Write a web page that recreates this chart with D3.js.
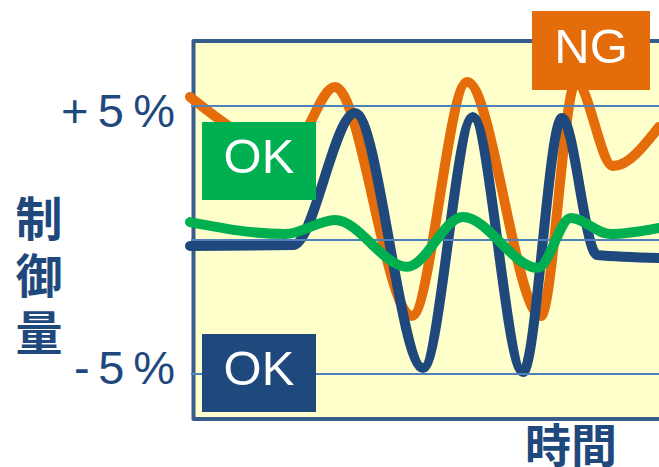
<!DOCTYPE html>
<html>
<head>
<meta charset="utf-8">
<script src="https://cdn.jsdelivr.net/npm/d3@7"></script>
<style>
  html, body { margin: 0; padding: 0; background: #fff; overflow: hidden; }
  svg { display: block; }
</style>
</head>
<body>
<svg id="chart" width="659" height="467"></svg>
<script>
// Control deviation (%) over time; time in arbitrary units 0–100.
const ngTime       = [0, 21.3, 30.9, 47.3, 59.1, 74.8, 82.3, 90.2, 100];
const ngValue      = [5.34, 3.36, 5.71, -2.84, 5.90, -2.84, 5.90, 2.76, 4.22];
const okBlueTime   = [0, 22, 35.2, 49.7, 60.3, 71, 79.3, 86.8, 100];
const okBlueValue  = [-0.22, -0.19, 4.74, -4.78, 4.59, -4.93, 4.55, -0.56, -0.67];
const okGreenTime  = [0, 20.3, 30.9, 46.3, 58.2, 74.2, 81.2, 89.6, 100];
const okGreenValue = [0.67, 0.22, 0.75, -1.0, 0.86, -1.04, 0.82, 0.22, 0.45];
const gridValues   = [5, 0, -5];
const tickValues   = [5, -5];
const tickLabels   = ["+5%", "-5%"];
const yTitle       = "制御量";
const xTitle       = "時間";
const badgeLabels  = ["NG", "OK", "OK"];

const svg = d3.select("#chart");
const C = { navy: "#1F497D", orange: "#E46C0A", green: "#00B050", grid: "#4F81BD", frame: "#385D8A", fill: "#FFFFCC" };

const x = d3.scaleLinear().domain([0, 100]).range([190, 659]);
const y = d3.scaleLinear().domain([-5, 5]).range([374, 106]);

const zip = (ts, vs) => ts.map((t, i) => ({ t, v: vs[i] }));
const line = d3.line().x(d => x(d.t)).y(d => y(d.v)).curve(d3.curveMonotoneX);

// plot frame
svg.append("rect")
  .attr("x", 193.5).attr("y", 41).attr("width", 520).attr("height", 378)
  .attr("fill", C.fill).attr("stroke", C.frame).attr("stroke-width", 4)
  .attr("stroke-linejoin", "round");

function drawSeries(ts, vs, color) {
  svg.append("path")
    .datum(zip(ts, vs))
    .attr("d", line)
    .attr("fill", "none")
    .attr("stroke", color)
    .attr("stroke-width", 10)
    .attr("stroke-linecap", "round")
    .attr("stroke-linejoin", "round");
}

drawSeries(ngTime, ngValue, C.orange);
drawSeries(okBlueTime, okBlueValue, C.navy);

// horizontal reference lines
svg.append("g").selectAll("line").data(gridValues).join("line")
  .attr("x1", 191).attr("x2", 680)
  .attr("y1", d => y(d)).attr("y2", d => y(d))
  .attr("stroke", C.grid).attr("stroke-width", 2);

drawSeries(okGreenTime, okGreenValue, C.green);

// tick labels
const tickOffset = { 5: 21, "-5": 10 };
const tickStart  = { 5: 61, "-5": 74 };
svg.append("g").selectAll("text").data(tickValues).join("text")
  .attr("x", d => tickStart[d])
  .attr("y", d => y(d) + tickOffset[d])
  .attr("textLength", d => 175 - tickStart[d])
  .attr("lengthAdjust", "spacing")
  .attr("font-family", "'Liberation Sans', Arial, sans-serif")
  .attr("font-size", 47)
  .attr("fill", C.navy)
  .text((d, i) => tickLabels[i]);

// vertical axis title, written top to bottom
svg.append("text")
  .attr("x", 39)
  .attr("y", 195)
  .style("writing-mode", "vertical-rl")
  .style("text-orientation", "upright")
  .style("letter-spacing", "10px")
  .attr("font-family", "'Noto Sans CJK JP', sans-serif")
  .attr("font-weight", "bold")
  .attr("font-size", 47)
  .attr("fill", C.navy)
  .text(yTitle);

svg.append("text")
  .attr("x", 571).attr("y", 442)
  .attr("text-anchor", "middle")
  .attr("dominant-baseline", "central")
  .attr("font-family", "'Noto Sans CJK JP', sans-serif")
  .attr("font-weight", "bold")
  .attr("font-size", 46)
  .attr("fill", C.navy)
  .text(xTitle);

// status badges
const badgeBoxes = [
  { x: 532, y: 11, w: 118, h: 79, color: C.orange },
  { x: 202, y: 122, w: 114, h: 78, color: C.green },
  { x: 202, y: 334, w: 114, h: 78, color: C.navy }
];
const badges = svg.append("g").selectAll("g").data(badgeLabels).join("g")
  .attr("transform", (d, i) => `translate(${badgeBoxes[i].x},${badgeBoxes[i].y})`);
badges.append("rect")
  .attr("width", (d, i) => badgeBoxes[i].w)
  .attr("height", (d, i) => badgeBoxes[i].h)
  .attr("fill", (d, i) => badgeBoxes[i].color);
badges.append("text")
  .attr("x", (d, i) => badgeBoxes[i].w / 2)
  .attr("y", (d, i) => badgeBoxes[i].h / 2 + 12)
  .attr("text-anchor", "middle")
  .attr("font-family", "'Liberation Sans', Arial, sans-serif")
  .attr("font-size", 49)
  .attr("fill", "#fff")
  .text(d => d);
</script>
</body>
</html>
